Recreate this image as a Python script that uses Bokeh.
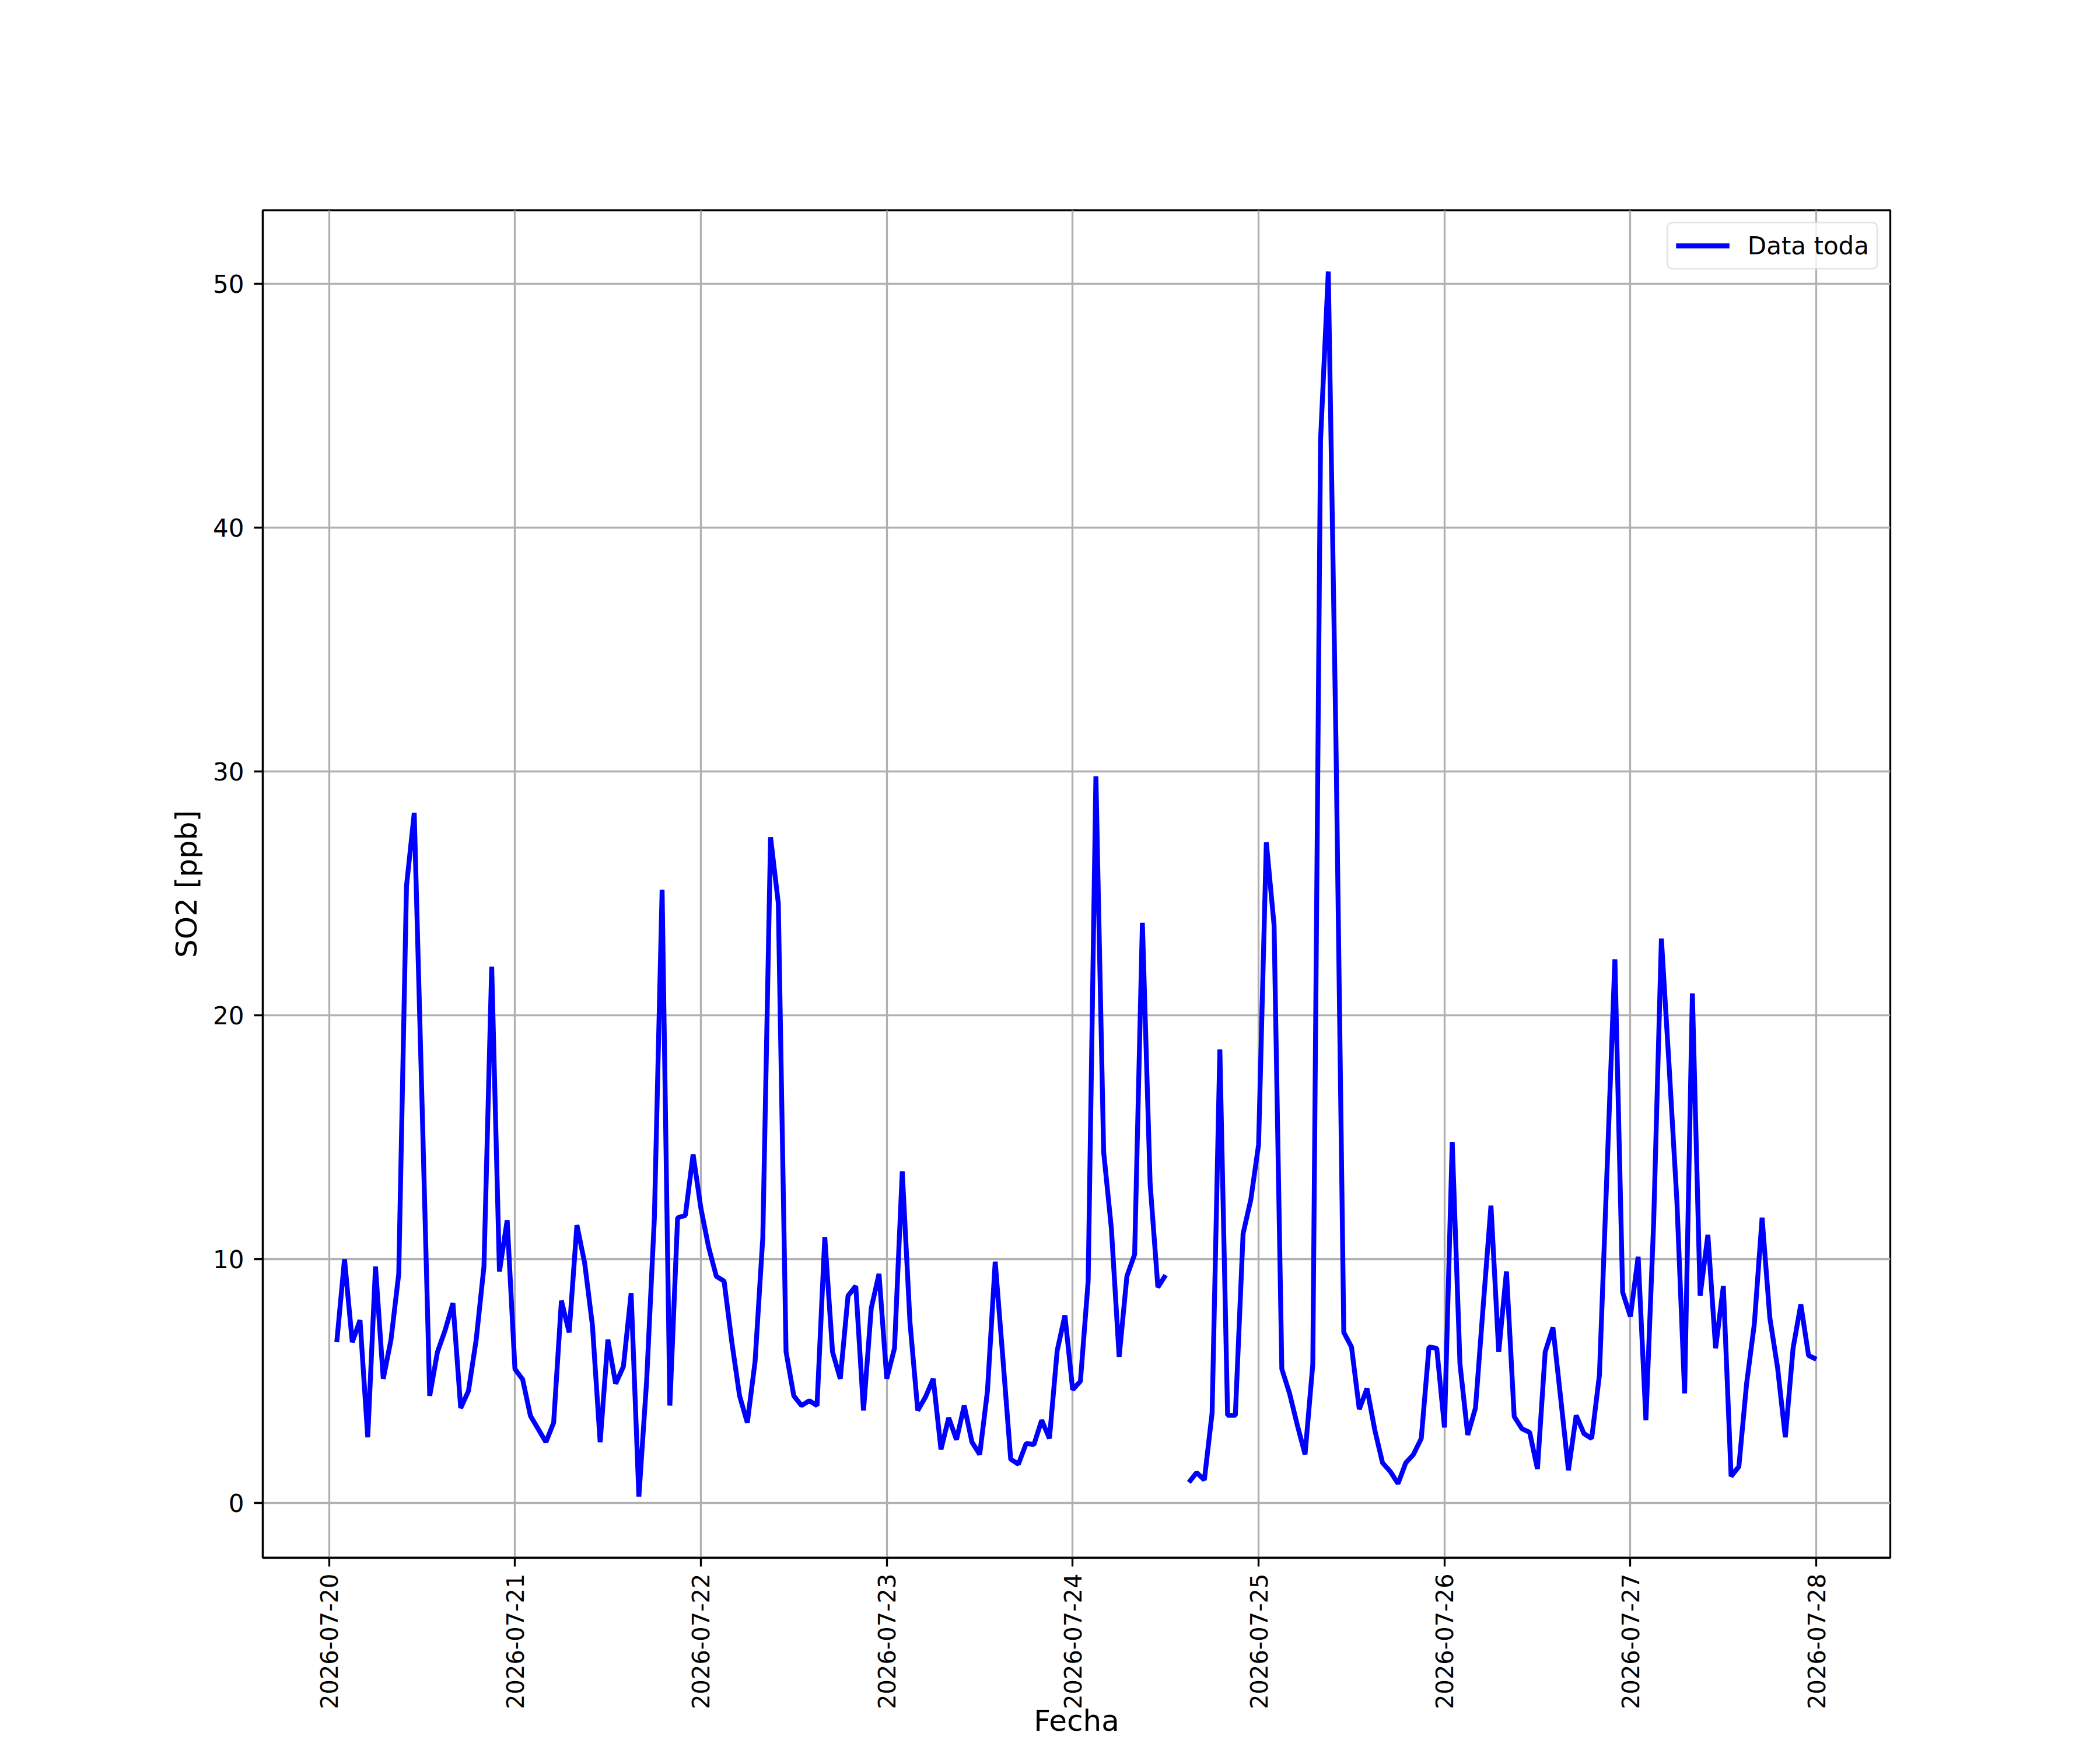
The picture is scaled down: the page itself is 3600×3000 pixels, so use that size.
import math
import numpy as np
import pandas as pd
from bokeh.plotting import figure
from bokeh.models import FixedTicker, DatetimeTickFormatter, Range1d, ColumnDataSource
from bokeh.embed import file_html
from bokeh.resources import INLINE

nan = float("nan")

# hourly SO2 readings, first reading 2026-07-20 01:00
start_time = "2026-07-20 01:00"
so2_0720 = [6.6, 10.0, 6.6, 7.5, 2.7, 9.7, 5.1, 6.7, 9.4, 25.3, 28.3, 16.5,
            4.4, 6.2, 7.1, 8.2, 3.9, 4.6, 6.7, 9.7, 22.0, 9.5, 11.6, 5.5]
so2_0721 = [5.07, 3.58, 3.04, 2.5, 3.3, 8.3, 7.0, 11.4, 9.85, 7.3, 2.5, 6.7,
            4.9, 5.6, 8.6, 0.27, 5.0, 11.7, 25.15, 4.0, 11.7, 11.8, 14.3, 12.1]
so2_0722 = [10.5, 9.3, 9.1, 6.6, 4.4, 3.3, 5.8, 10.9, 27.3, 24.6, 6.2, 4.4,
            4.0, 4.2, 4.0, 10.9, 6.2, 5.1, 8.5, 8.9, 3.8, 8.0, 9.4, 5.1]
so2_0723 = [6.35, 13.6, 7.4, 3.8, 4.35, 5.1, 2.2, 3.5, 2.6, 4.0, 2.5, 2.0,
            4.6, 9.9, 5.9, 1.8, 1.6, 2.45, 2.4, 3.4, 2.65, 6.25, 7.7, 4.65]
so2_0724 = [5.0, 9.1, 29.8, 14.4, 11.25, 6.0, 9.3, 10.2, 23.8, 13.1, 8.85, 9.35,
            nan, nan, 0.85, 1.25, 0.95, 3.7, 18.6, 3.6, 3.6, 11.05, 12.45, 14.7]
so2_0725 = [27.1, 23.7, 5.5, 4.5, 3.2, 2.0, 5.7, 43.6, 50.5, 31.0, 7.0, 6.4,
            3.85, 4.7, 3.0, 1.65, 1.3, 0.8, 1.65, 2.0, 2.65, 6.4, 6.35, 3.1]
so2_0726 = [14.8, 5.7, 2.8, 3.9, 8.1, 12.2, 6.2, 9.5, 3.55, 3.05, 2.9, 1.4,
            6.2, 7.2, 4.3, 1.35, 3.6, 2.85, 2.65, 5.25, 13.8, 22.3, 8.65, 7.65]
so2_0727 = [10.1, 3.4, 11.5, 23.15, 17.9, 12.4, 4.5, 20.9, 8.5, 11.0, 6.35, 8.9,
            1.1, 1.5, 4.9, 7.35, 11.7, 7.6, 5.55, 2.7, 6.35, 8.15, 6.05, 5.9]

day_ticks = ["2026-07-20", "2026-07-21", "2026-07-22", "2026-07-23", "2026-07-24",
             "2026-07-25", "2026-07-26", "2026-07-27", "2026-07-28"]
y_ticks = [0, 10, 20, 30, 40, 50]
series_label = "Data toda"
x_label = "Fecha"
y_label = "SO2 [ppb]"

so2 = np.array(so2_0720 + so2_0721 + so2_0722 + so2_0723 +
               so2_0724 + so2_0725 + so2_0726 + so2_0727, dtype=float)
times = pd.date_range(start_time, periods=len(so2), freq="h")

# matplotlib-like 5% margins
t0, t1 = times[0], times[-1]
tspan = t1 - t0
x_start = (t0 - 0.05 * tspan)
x_end = (t1 + 0.05 * tspan)
ymin, ymax = np.nanmin(so2), np.nanmax(so2)
yspan = ymax - ymin
y_start = ymin - 0.05 * yspan
y_end = ymax + 0.05 * yspan

FONT = "DejaVu Sans"
W, H = 3584, 2984
BL, BT, BR = 450, 360, 344
FRAME_H = 2310
BB = H - BT - FRAME_H

p = figure(width=W, height=H, x_axis_type="datetime",
           output_backend="svg", toolbar_location=None,
           x_range=Range1d(x_start.to_pydatetime(), x_end.to_pydatetime()),
           y_range=Range1d(y_start, y_end),
           min_border_left=BL, min_border_right=BR,
           min_border_top=BT, min_border_bottom=BB)
p.background_fill_color = "white"
p.border_fill_color = "white"

src = ColumnDataSource(dict(t=times, v=so2))
p.line("t", "v", source=src, line_color="#0000ff", line_width=8.3,
       legend_label=series_label)

p.xaxis.ticker = FixedTicker(ticks=[pd.Timestamp(d).value / 1e6 for d in day_ticks])
fmt = "%Y-%m-%d"
p.xaxis.formatter = DatetimeTickFormatter(days=fmt, hours=fmt, hourmin=fmt,
                                          months=fmt, minutes=fmt, years=fmt)
p.xaxis.major_label_orientation = math.pi / 2
p.yaxis.ticker = FixedTicker(ticks=y_ticks)

p.xaxis.axis_label = x_label
p.yaxis.axis_label = y_label

for ax in (p.xaxis, p.yaxis):
    ax.axis_line_color = "black"
    ax.axis_line_width = 3.3
    ax.major_tick_line_color = "black"
    ax.major_tick_line_width = 3.3
    ax.major_tick_out = 15
    ax.major_tick_in = 0
    ax.minor_tick_line_color = None
    ax.major_label_text_font = FONT
    ax.major_label_text_font_size = "42px"
    ax.major_label_text_color = "black"
    ax.axis_label_text_font = FONT
    ax.axis_label_text_font_size = "50px"
    ax.axis_label_text_font_style = "normal"
    ax.axis_label_text_color = "black"

p.xaxis.major_label_text_font_size = "40px"
p.xaxis.major_label_standoff = 12
p.xaxis.axis_label_standoff = -12
p.yaxis.major_label_standoff = 17
p.yaxis.axis_label_standoff = 13

p.grid.grid_line_color = "#b0b0b0"
p.grid.grid_line_width = 3.3

p.outline_line_color = "black"
p.outline_line_width = 3.3
p.outline_line_alpha = 1.0

lg = p.legend[0]
lg.location = "top_right"
lg.margin = 20
lg.padding = 13
lg.spacing = 0
lg.glyph_width = 92
lg.glyph_height = 40
lg.label_height = 50
lg.label_standoff = 31
lg.label_text_font = FONT
lg.label_text_font_size = "42px"
lg.label_text_color = "black"
lg.border_line_color = "#cccccc"
lg.border_line_width = 3.3
lg.border_radius = 10
lg.background_fill_alpha = 0.8

open("out.html", "w").write(file_html(p, INLINE))
